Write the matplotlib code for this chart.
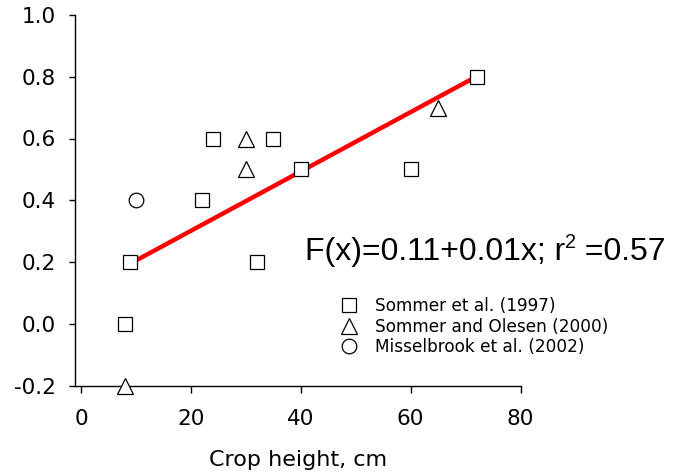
import numpy as np
import matplotlib
matplotlib.use("Agg")
import matplotlib.pyplot as plt
from matplotlib.lines import Line2D

# Crop height (cm) and measured values for each study
sommer1997_x = [8, 9, 22, 24, 32, 35, 40, 60, 72]
sommer1997_y = [0.0, 0.2, 0.4, 0.6, 0.2, 0.6, 0.5, 0.5, 0.8]
sommer2000_x = [8, 30, 30, 65]
sommer2000_y = [-0.2, 0.6, 0.5, 0.7]
missel2002_x = [10]
missel2002_y = [0.4]

legend_labels = ["Sommer et al. (1997)", "Sommer and Olesen (2000)",
                 "Misselbrook et al. (2002)"]
x_ticks = [0, 20, 40, 60, 80]
y_ticks = [-0.2, 0.0, 0.2, 0.4, 0.6, 0.8, 1.0]
fit_intercept = 0.11
fit_slope = 0.01
fit_r2 = 0.57

tick_font = "DejaVu Sans"
eq_font = "Liberation Sans"

fig = plt.figure(figsize=(6.73, 4.74), dpi=100)
ax = fig.add_axes([75 / 673, 1 - 385.5 / 474, (520.5 - 75) / 673, (385.5 - 15) / 474])

# Linear regression over all pooled points
all_x = np.array(sommer1997_x + sommer2000_x + missel2002_x, dtype=float)
all_y = np.array(sommer1997_y + sommer2000_y + missel2002_y, dtype=float)
slope, intercept = np.polyfit(all_x, all_y, 1)
xf = np.array([all_x.min() + 1, all_x.max()])
ax.plot(xf, intercept + slope * xf, color="#ff0000", lw=3.2, solid_capstyle="butt", zorder=2)

mk = dict(mfc="white", mec="black", mew=0.9, ls="none")
ax.plot(sommer1997_x, sommer1997_y, marker="s", ms=10, zorder=3, clip_on=False, **mk)
ax.plot(sommer2000_x, sommer2000_y, marker="^", ms=11, zorder=3, clip_on=False, **mk)
ax.plot(missel2002_x, missel2002_y, marker="o", ms=10.5, zorder=3, clip_on=False, **mk)

ax.set_xlim(-1.1, 80)
ax.set_ylim(-0.2, 1.0)
ax.set_xticks(x_ticks)
ax.set_yticks(y_ticks)
ax.set_yticklabels([f"{v:.1f}" for v in y_ticks])
for s in ["top", "right"]:
    ax.spines[s].set_visible(False)
for s in ["left", "bottom"]:
    ax.spines[s].set_linewidth(1.0)
ax.tick_params(axis="y", direction="out", length=4, width=1, pad=10, labelsize=15.5)
ax.tick_params(axis="x", direction="out", length=5, width=1, pad=12, labelsize=15.5)
for lab in ax.get_xticklabels() + ax.get_yticklabels():
    lab.set_fontfamily(tick_font)

ax.set_xlabel("Crop height, cm", fontsize=16, family=tick_font, labelpad=15)

# Regression equation, built from pieces so the superscript sits in plain text
fig.canvas.draw()
renderer = fig.canvas.get_renderer()
W, H = fig.bbox.width, fig.bbox.height
eq_size = 23
x0, base = 305, 474 - 260
pieces = [
    (f"F(x)={fit_intercept:.2f}+{fit_slope:.2f}x; r", eq_size, 0),
    ("2", eq_size * 0.62, 12),
    (f" ={fit_r2:.2f}", eq_size, 0),
]
for txt, size, rise in pieces:
    t = fig.text(x0 / W, (base + rise) / H, txt, fontsize=size, family=eq_font,
                 ha="left", va="baseline")
    x0 += t.get_window_extent(renderer).width

handles = [
    Line2D([], [], marker="s", ms=10, **mk),
    Line2D([], [], marker="^", ms=11, **mk),
    Line2D([], [], marker="o", ms=10.5, **mk),
]
fig.legend(handles, legend_labels, loc="upper left",
           bbox_to_anchor=(339 / 673, 1 - 297 / 474), frameon=False,
           prop={"family": tick_font, "size": 12.2}, handlelength=1.2,
           handletextpad=0.9, labelspacing=0.16, borderpad=0, borderaxespad=0)

fig.savefig("out.png", dpi=100)
